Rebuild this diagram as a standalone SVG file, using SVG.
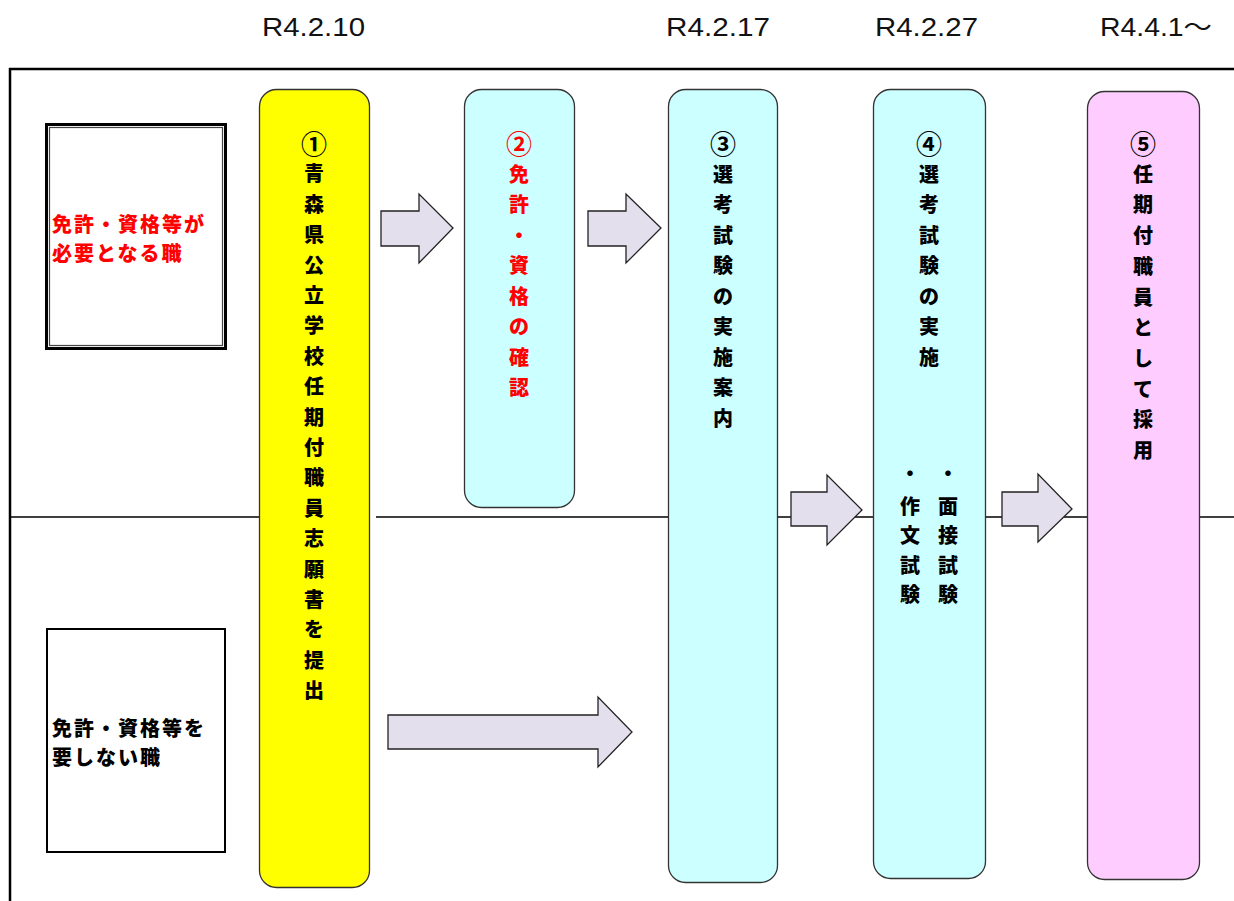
<svg xmlns="http://www.w3.org/2000/svg" width="1234" height="901" viewBox="0 0 1234 901">
<style>
.date{font-family:"Liberation Sans","Noto Sans CJK JP",sans-serif;font-size:25px;fill:#111}
.col{stroke:#333;stroke-width:1.3}
.vt{font-family:"Noto Sans CJK JP",sans-serif;font-weight:900;font-size:20px;text-anchor:middle;dominant-baseline:central;fill:#000}
.num{font-size:26px;font-weight:bold}
.red{fill:#FF0000}
.lbl{font-family:"Noto Sans CJK JP",sans-serif;font-weight:900;font-size:20px;letter-spacing:2px}
.arrow{fill:#E4DFEC;stroke:#222;stroke-width:1.3;stroke-linejoin:miter}
.frame{stroke:#000;fill:none}
</style>
<rect width="1234" height="901" fill="#fff"/>
<g id="dates">
<text class="date" x="262" y="36" textLength="103" lengthAdjust="spacingAndGlyphs">R4.2.10</text>
<text class="date" x="666" y="36" textLength="104" lengthAdjust="spacingAndGlyphs">R4.2.17</text>
<text class="date" x="875" y="36" textLength="103" lengthAdjust="spacingAndGlyphs">R4.2.27</text>
<text class="date" x="1100" y="36" textLength="112" lengthAdjust="spacingAndGlyphs">R4.4.1～</text>
</g>
<g id="frame">
<line class="frame" x1="9" y1="69" x2="1234" y2="69" stroke-width="2.5"/>
<line class="frame" x1="10" y1="68" x2="10" y2="901" stroke-width="2.5"/>
<line class="frame" x1="10" y1="517" x2="259" y2="517" stroke-width="1.6"/>
<line class="frame" x1="376" y1="517" x2="1234" y2="517" stroke-width="1.6"/>
</g>
<g id="box-required">
<rect x="46.5" y="124.5" width="179" height="224" fill="#fff" stroke="#000" stroke-width="3"/>
<rect x="49.5" y="127.5" width="173" height="218" fill="none" stroke="#444" stroke-width="1.2"/>
<text class="lbl red" x="52" y="232">免許・資格等が</text>
<text class="lbl red" x="52" y="261">必要となる職</text>
</g>
<g id="box-notrequired">
<rect x="47" y="629" width="178" height="223" fill="#fff" stroke="#000" stroke-width="2"/>
<text class="lbl" x="52" y="736">免許・資格等を</text>
<text class="lbl" x="52" y="765">要しない職</text>
</g>
<g id="connectors">
<polygon class="arrow" points="381,211 419,211 419,194 453,228 419,263 419,246 381,246"/>
<polygon class="arrow" points="588,211 626,211 626,194 661,228 626,263 626,246 588,246"/>
<polygon class="arrow" points="791,492 827,492 827,475 862,510 827,545 827,526 791,526"/>
<polygon class="arrow" points="1002,492 1038,492 1038,474 1072,509 1038,542 1038,526 1002,526"/>
<polygon class="arrow" points="388,715 598,715 598,697 632,732 598,767 598,749 388,749"/>
</g>
<g id="step1">
<rect class="col" x="259.5" y="89.5" width="110" height="798" rx="17" fill="#FFFF00"/>
<text class="vt"><tspan class="num" x="314" y="142">①</tspan><tspan x="314" dy="30.4">青</tspan><tspan x="314" dy="30.4">森</tspan><tspan x="314" dy="30.4">県</tspan><tspan x="314" dy="30.4">公</tspan><tspan x="314" dy="30.4">立</tspan><tspan x="314" dy="30.4">学</tspan><tspan x="314" dy="30.4">校</tspan><tspan x="314" dy="30.4">任</tspan><tspan x="314" dy="30.4">期</tspan><tspan x="314" dy="30.4">付</tspan><tspan x="314" dy="30.4">職</tspan><tspan x="314" dy="30.4">員</tspan><tspan x="314" dy="30.4">志</tspan><tspan x="314" dy="30.4">願</tspan><tspan x="314" dy="30.4">書</tspan><tspan x="314" dy="30.4">を</tspan><tspan x="314" dy="30.4">提</tspan><tspan x="314" dy="30.4">出</tspan></text>
</g>
<g id="step2">
<rect class="col" x="464.5" y="89.5" width="110" height="418" rx="17" fill="#CCFFFF"/>
<text class="vt red"><tspan class="num" x="519" y="142">②</tspan><tspan x="519" dy="30.5">免</tspan><tspan x="519" dy="30.5">許</tspan><tspan x="519" dy="30.5">・</tspan><tspan x="519" dy="30.5">資</tspan><tspan x="519" dy="30.5">格</tspan><tspan x="519" dy="30.5">の</tspan><tspan x="519" dy="30.5">確</tspan><tspan x="519" dy="30.5">認</tspan></text>
</g>
<g id="step3">
<rect class="col" x="668.5" y="89.5" width="109" height="793" rx="17" fill="#CCFFFF"/>
<text class="vt"><tspan class="num" x="723" y="142">③</tspan><tspan x="723" dy="30.5">選</tspan><tspan x="723" dy="30.5">考</tspan><tspan x="723" dy="30.5">試</tspan><tspan x="723" dy="30.5">験</tspan><tspan x="723" dy="30.5">の</tspan><tspan x="723" dy="30.5">実</tspan><tspan x="723" dy="30.5">施</tspan><tspan x="723" dy="30.5">案</tspan><tspan x="723" dy="30.5">内</tspan></text>
</g>
<g id="step4">
<rect class="col" x="873.5" y="89.5" width="112" height="789" rx="17" fill="#CCFFFF"/>
<text class="vt"><tspan class="num" x="929" y="142">④</tspan><tspan x="929" dy="30.5">選</tspan><tspan x="929" dy="30.5">考</tspan><tspan x="929" dy="30.5">試</tspan><tspan x="929" dy="30.5">験</tspan><tspan x="929" dy="30.5">の</tspan><tspan x="929" dy="30.5">実</tspan><tspan x="929" dy="30.5">施</tspan></text>
<text class="vt"><tspan x="948" y="472">・</tspan><tspan x="948" y="505">面</tspan><tspan x="948" y="534">接</tspan><tspan x="948" y="564">試</tspan><tspan x="948" y="593">験</tspan></text>
<text class="vt"><tspan x="910" y="472">・</tspan><tspan x="910" y="505">作</tspan><tspan x="910" y="534">文</tspan><tspan x="910" y="564">試</tspan><tspan x="910" y="593">験</tspan></text>
</g>
<g id="step5">
<rect class="col" x="1087.5" y="91.5" width="112" height="788" rx="17" fill="#FFCCFF"/>
<text class="vt"><tspan class="num" x="1143" y="142">⑤</tspan><tspan x="1143" dy="30.7">任</tspan><tspan x="1143" dy="30.7">期</tspan><tspan x="1143" dy="30.7">付</tspan><tspan x="1143" dy="30.7">職</tspan><tspan x="1143" dy="30.7">員</tspan><tspan x="1143" dy="30.7">と</tspan><tspan x="1143" dy="30.7">し</tspan><tspan x="1143" dy="30.7">て</tspan><tspan x="1143" dy="30.7">採</tspan><tspan x="1143" dy="30.7">用</tspan></text>
</g>
</svg>
